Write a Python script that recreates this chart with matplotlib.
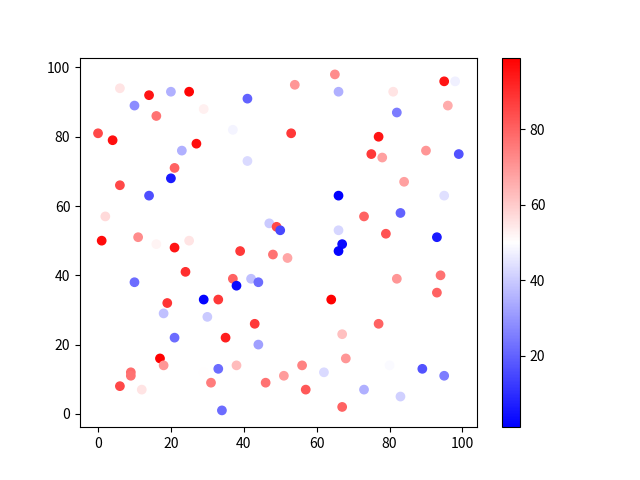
import matplotlib
matplotlib.use('Agg')
import matplotlib.pyplot as plt

plt.rcParams['font.family'] = ['Noto Sans CJK SC', 'DejaVu Sans']
plt.rcParams['axes.unicode_minus'] = False

# datos: x, y, valor de color
x = [6, 14, 20, 25, 41, 10, 16, 29, 37, 0,
     4, 27, 23, 41, 21, 20, 6, 14, 2, 47,
     49, 50, 1, 11, 16, 21, 25, 54, 65, 66,
     81, 95, 98, 96, 82, 53, 77, 75, 78, 90,
     99, 84, 66, 95, 73, 83, 66, 79, 93, 67,
     39, 48, 24, 10, 37, 42, 44, 38, 29, 33,
     19, 18, 30, 43, 21, 35, 44, 17, 18, 9,
     9, 33, 38, 31, 46, 6, 12, 34, 66, 52,
     82, 94, 93, 64, 77, 67, 68, 56, 51, 62,
     57, 80, 89, 95, 73, 83, 67, 29]
y = [94, 92, 93, 93, 91, 89, 86, 88, 82, 81,
     79, 78, 76, 73, 71, 68, 66, 63, 57, 55,
     54, 53, 50, 51, 49, 48, 50, 95, 98, 93,
     93, 96, 96, 89, 87, 81, 80, 75, 74, 76,
     75, 67, 63, 63, 57, 58, 53, 52, 51, 49,
     47, 46, 41, 38, 39, 39, 38, 37, 33, 33,
     32, 29, 28, 26, 22, 22, 20, 16, 14, 12,
     11, 13, 14, 9, 9, 8, 7, 1, 47, 45,
     39, 40, 35, 33, 26, 23, 16, 14, 11, 12,
     7, 14, 13, 11, 7, 5, 2, 12]
c = [55, 95, 35, 98, 20, 28, 77, 53, 48, 85,
     96, 96, 35, 43, 80, 6, 85, 16, 57, 40,
     85, 15, 97, 72, 52, 95, 55, 70, 72, 35,
     55, 95, 47, 66, 25, 88, 95, 88, 68, 70,
     17, 68, 1, 44, 80, 20, 42, 83, 6, 3,
     88, 77, 90, 22, 80, 38, 22, 3, 2, 88,
     89, 38, 40, 88, 22, 93, 32, 99, 70, 78,
     77, 22, 63, 75, 77, 85, 55, 22, 2, 67,
     70, 77, 80, 99, 80, 62, 70, 74, 69, 43,
     82, 49, 17, 25, 35, 41, 80, 50]

fig, ax = plt.subplots(figsize=(6.4, 4.8), dpi=100)
sc = ax.scatter(x, y, c=c, cmap='bwr')
fig.colorbar(sc, ax=ax)
plt.savefig('out.png')
print("Done.")
